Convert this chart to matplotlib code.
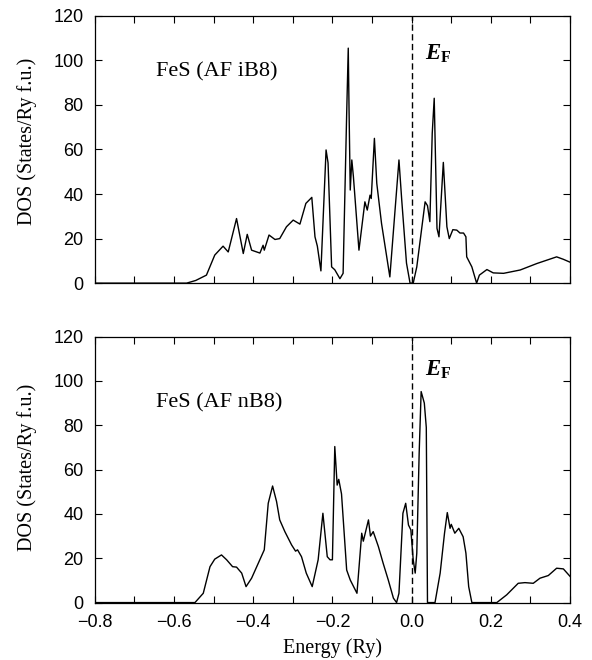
import matplotlib
matplotlib.use("Agg")
import matplotlib.pyplot as plt
from matplotlib.ticker import MultipleLocator

# Top panel: FeS (AF iB8)
e_top = [-0.80, -0.60, -0.568, -0.545, -0.518, -0.497, -0.476, -0.463, -0.442, -0.425,
         -0.415, -0.404, -0.383, -0.375, -0.372, -0.360, -0.345, -0.333, -0.316, -0.299,
         -0.282, -0.267, -0.252, -0.244, -0.238, -0.229, -0.216, -0.211, -0.202, -0.194,
         -0.181, -0.173, -0.164, -0.160, -0.158, -0.155, -0.151, -0.147, -0.133, -0.118,
         -0.112, -0.105, -0.102, -0.094, -0.088, -0.076, -0.055, -0.032, -0.025, -0.013,
         -0.004, 0.004, 0.013, 0.034, 0.040, 0.046, 0.052, 0.057, 0.064, 0.069,
         0.080, 0.089, 0.095, 0.104, 0.114, 0.122, 0.131, 0.137, 0.139, 0.152,
         0.164, 0.171, 0.190, 0.206, 0.232, 0.274, 0.316, 0.341, 0.366, 0.383, 0.400]
dos_top = [0, 0, 0, 1.2, 3.6, 12.6, 16.6, 14.0, 29.0, 13.3,
           21.9, 14.8, 13.5, 17.0, 14.8, 21.6, 19.6, 20.0, 25.3, 28.3,
           26.5, 35.8, 38.5, 20.8, 16.6, 5.5, 59.8, 54.0, 7.3, 6.0,
           2.0, 4.4, 76.0, 105.5, 77.8, 41.8, 55.3, 47.8, 14.8, 36.5,
           32.8, 39.5, 38.0, 65.0, 44.8, 26.8, 2.8, 55.3, 37.3, 9.0,
           0, 0, 7.3, 36.5, 34.8, 27.6, 67.3, 83.0, 24.6, 20.8,
           54.2, 25.3, 20.0, 24.0, 23.8, 22.5, 22.5, 20.8, 11.8, 7.3,
           0, 3.6, 6.1, 4.6, 4.4, 5.9, 8.8, 10.3, 11.8, 10.7, 9.4]

# Bottom panel: FeS (AF nB8)
e_bot = [-0.80, -0.60, -0.547, -0.526, -0.509, -0.497, -0.480, -0.467, -0.452, -0.442,
         -0.429, -0.418, -0.404, -0.387, -0.372, -0.362, -0.351, -0.341, -0.333, -0.320,
         -0.303, -0.293, -0.288, -0.278, -0.266, -0.251, -0.236, -0.224, -0.213, -0.206,
         -0.200, -0.194, -0.188, -0.184, -0.177, -0.164, -0.155, -0.138, -0.126, -0.122,
         -0.109, -0.104, -0.097, -0.084, -0.072, -0.059, -0.046, -0.038, -0.032, -0.022,
         -0.015, -0.008, -0.002, 0.004, 0.009, 0.013, 0.019, 0.024, 0.032, 0.037,
         0.040, 0.059, 0.072, 0.083, 0.090, 0.097, 0.100, 0.109, 0.119, 0.130,
         0.137, 0.144, 0.152, 0.215, 0.240, 0.269, 0.286, 0.307, 0.324, 0.345,
         0.366, 0.383, 0.400]
dos_bot = [0, 0, 0, 4.2, 16.2, 19.6, 21.5, 19.3, 16.2, 16.0,
           13.3, 7.2, 11.0, 17.8, 23.8, 44.8, 52.6, 45.6, 37.3, 32.0,
           26.0, 23.2, 23.8, 20.7, 13.3, 7.2, 19.3, 40.3, 20.7, 19.3,
           19.3, 70.4, 53.0, 55.6, 49.0, 14.7, 10.2, 4.2, 31.3, 27.7,
           37.3, 30.0, 32.0, 25.3, 17.8, 10.2, 2.0, 0, 4.2, 40.3,
           44.8, 35.0, 32.8, 19.3, 13.3, 22.3, 67.4, 95.2, 90.0, 79.0,
           0, 0, 13.3, 31.3, 40.6, 33.5, 35.3, 31.3, 33.5, 29.7,
           22.3, 7.2, 0, 0, 3.5, 8.7, 9.0, 8.7, 11.0, 12.2,
           15.5, 15.2, 11.8]

x_ticks = [-0.8, -0.6, -0.4, -0.2, 0.0, 0.2, 0.4]
x_ticklabels = ["\u22120.8", "\u22120.6", "\u22120.4", "\u22120.2", "0.0", "0.2", "0.4"]
y_ticks = [0, 20, 40, 60, 80, 100, 120]
labels = ["FeS (AF iB8)", "FeS (AF nB8)"]

serif = "Liberation Serif"
sans = "Liberation Sans"

plt.rcParams["mathtext.fontset"] = "custom"
plt.rcParams["mathtext.rm"] = "Liberation Serif"
plt.rcParams["mathtext.it"] = "Liberation Serif:italic"
plt.rcParams["mathtext.bf"] = "Liberation Serif:bold"
plt.rcParams["mathtext.bfit"] = "Liberation Serif:bold:italic"

fig = plt.figure(figsize=(5.92, 6.6), dpi=100)
ax1 = fig.add_axes([0.160, 0.571, 0.803, 0.405])
ax2 = fig.add_axes([0.160, 0.087, 0.803, 0.403])

panels = [(ax1, e_top, dos_top, labels[0], 95, 103, 0.53),
          (ax2, e_bot, dos_bot, labels[1], 90, 105, 0.51)]
for ax, e, d, lab, ly, efy, ylab_y in panels:
    ax.plot(e, d, color="black", lw=1.0)
    ax.axvline(0.0, color="black", lw=1.0, ls=(0, (4.5, 2.5)))
    ax.set_xlim(-0.8, 0.4)
    ax.set_ylim(0, 120)
    ax.set_xticks(x_ticks)
    ax.xaxis.set_minor_locator(MultipleLocator(0.1))
    ax.set_yticks(y_ticks)
    ax.tick_params(which="both", direction="in", top=True, right=True, length=5, width=0.8)
    ax.tick_params(axis="y", labelsize=13, pad=8)
    ax.tick_params(axis="x", labelsize=13, pad=8)
    for t in ax.get_yticklabels() + ax.get_xticklabels():
        t.set_fontfamily(sans)
    ax.set_ylabel("DOS (States/Ry f.u.)", fontfamily=serif, fontsize=14.5)
    ax.yaxis.set_label_coords(-0.122, ylab_y)
    ax.text(-0.645, ly, lab, fontfamily=serif, fontsize=16, va="center", ha="left")
    ax.text(0.033, efy, r"$\mathbfit{E}_{\mathbf{F}}$", fontsize=16.5, va="center", ha="left")
    for s in ax.spines.values():
        s.set_linewidth(0.9)

ax1.set_xticklabels([])
ax2.set_xticklabels(x_ticklabels, fontfamily=sans)
ax2.set_xlabel("Energy (Ry)", fontfamily=serif, fontsize=14.5)
ax2.xaxis.set_label_coords(0.5, -0.135)

fig.savefig("out.png", dpi=100)
